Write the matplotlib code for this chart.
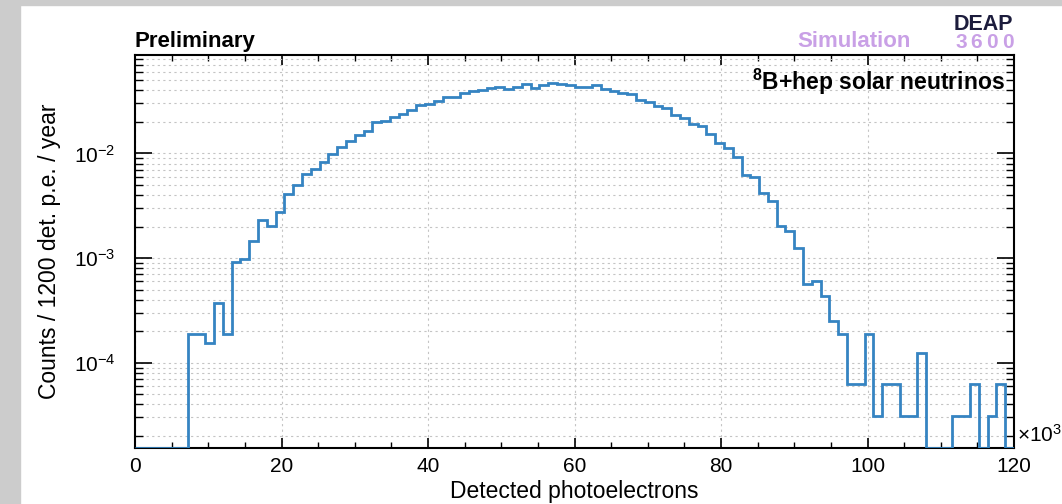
import numpy as np
import matplotlib
matplotlib.use("Agg")
import matplotlib.pyplot as plt
from matplotlib.ticker import LogLocator, MultipleLocator, NullFormatter, FuncFormatter

plt.rcParams['font.family'] = ['Liberation Sans', 'DejaVu Sans']
plt.rcParams['mathtext.fontset'] = 'custom'
plt.rcParams['mathtext.rm'] = 'Liberation Sans'
plt.rcParams['mathtext.it'] = 'Liberation Sans:italic'
plt.rcParams['mathtext.bf'] = 'Liberation Sans:bold'

# histogram: 100 bins of 1200 detected p.e. from 0 to 120k
bin_width = 1200
n_bins = 100
counts = [
    0, 0, 0, 0, 0, 0, 1.87e-4, 1.87e-4, 1.55e-4, 3.7e-4,
    1.87e-4, 9.2e-4, 9.9e-4, 1.45e-3, 2.29e-3, 2.02e-3, 2.77e-3, 4.08e-3, 4.94e-3, 6.34e-3,
    7.08e-3, 8.2e-3, 9.9e-3, 1.14e-2, 1.31e-2, 1.51e-2, 1.64e-2, 1.98e-2, 2.02e-2, 2.24e-2,
    2.37e-2, 2.59e-2, 2.87e-2, 2.96e-2, 3.16e-2, 3.43e-2, 3.45e-2, 3.8e-2, 3.94e-2, 4.03e-2,
    4.24e-2, 4.33e-2, 4.11e-2, 4.26e-2, 4.56e-2, 4.24e-2, 4.49e-2, 4.72e-2, 4.6e-2, 4.49e-2,
    4.3e-2, 4.33e-2, 4.49e-2, 4.08e-2, 3.94e-2, 3.74e-2, 3.7e-2, 3.23e-2, 3.09e-2, 2.85e-2,
    2.69e-2, 2.32e-2, 2.19e-2, 1.89e-2, 1.82e-2, 1.53e-2, 1.25e-2, 1.12e-2, 9.3e-3, 6.2e-3,
    5.9e-3, 4.2e-3, 3.5e-3, 2.02e-3, 1.82e-3, 1.25e-3, 5.6e-4, 6.1e-4, 4.35e-4, 2.5e-4,
    1.87e-4, 6.2e-5, 6.2e-5, 1.87e-4, 3.1e-5, 6.2e-5, 6.2e-5, 3.1e-5, 3.1e-5, 1.24e-4,
    0, 0, 0, 3.1e-5, 3.1e-5, 6.2e-5, 0, 3.1e-5, 6.2e-5, 0,
]
x_ticks = [0, 20000, 40000, 60000, 80000, 100000, 120000]
y_ticks = [1e-4, 1e-3, 1e-2]

ymin, ymax = 1.55e-5, 8.7e-2

edges = np.arange(n_bins + 1) * bin_width
vals = np.array(counts, dtype=float)
vals = np.where(vals > 0, vals, ymin)   # empty bins sit on the frame like in ROOT

fig = plt.figure(figsize=(10.62, 5.04), dpi=100)
# grey window border
fig.patches.append(plt.Rectangle((0, 0), 20 / 1062, 1, transform=fig.transFigure,
                                 color='#cccccc', zorder=0))
fig.patches.append(plt.Rectangle((0, 1 - 5 / 504), 1, 5 / 504, transform=fig.transFigure,
                                 color='#cccccc', zorder=0))

ax = fig.add_axes([135 / 1062, 1 - 447.5 / 504, (1014 - 135) / 1062, (447.5 - 55) / 504])
ax.stairs(vals, edges, baseline=None, color='#3584c2', linewidth=2.0, zorder=3)

ax.set_yscale('log')
ax.set_xlim(0, 120000)
ax.set_ylim(ymin, ymax)

ax.xaxis.set_major_locator(MultipleLocator(20000))
ax.xaxis.set_minor_locator(MultipleLocator(5000))
ax.set_xticks(x_ticks)
ax.xaxis.set_major_formatter(FuncFormatter(lambda v, p: '%d' % (v / 1000)))

ax.yaxis.set_major_locator(LogLocator(base=10, numticks=10))
ax.yaxis.set_minor_locator(LogLocator(base=10, subs=np.arange(2, 10), numticks=20))
ax.yaxis.set_minor_formatter(NullFormatter())
ax.set_yticks(y_ticks)
ax.set_yticklabels([r'10$^{-4}$', r'10$^{-3}$', r'10$^{-2}$'])

ax.tick_params(which='both', direction='in', top=True, right=True, labelsize=15, color='black')
ax.tick_params(axis='x', which='major', length=7, width=1.2, pad=7)
ax.tick_params(axis='x', which='minor', length=4, width=1.0)
ax.tick_params(axis='y', which='major', length=12, width=1.2, pad=14)
ax.tick_params(axis='y', which='minor', length=6, width=1.0)

ax.grid(which='major', axis='x', color='#c4c4c4', linestyle=(0, (2, 3)), linewidth=0.8)
ax.grid(which='both', axis='y', color='#c4c4c4', linestyle=(0, (2, 3)), linewidth=0.8)

for s in ax.spines.values():
    s.set_linewidth(1.5)

ax.set_xlabel('Detected photoelectrons', fontsize=16.5, labelpad=3)
ax.set_ylabel('Counts / 1200 det. p.e. / year', fontsize=16.5, labelpad=9)

ax.text(1.003, 0.005, r'$\times$10$^{3}$', transform=ax.transAxes, fontsize=15,
        ha='left', va='bottom')

ax.text((1005 - 135) / 879, (447.5 - 90) / 392.5, r'$^{\mathbf{8}}$B+hep solar neutrinos',
        transform=ax.transAxes, fontsize=16.5, fontweight='bold', ha='right', va='baseline')

fig.text(135 / 1062, 1 - 47 / 504, 'Preliminary', fontsize=16, fontweight='bold',
         ha='left', va='baseline')
fig.text(797 / 1062, 1 - 47 / 504, 'Simulation', fontsize=16, fontweight='bold',
         color='#c9a0e6', ha='left', va='baseline')
fig.text(954 / 1062, 1 - 29.5 / 504, 'DEAP', fontsize=15.5, fontweight='bold',
         color='#1c1c3c', ha='left', va='baseline')
for i, ch in enumerate('3600'):
    fig.text((961 + 15.5 * i) / 1062, 1 - 48 / 504, ch, fontsize=15, fontweight='bold',
             color='#c9a0e6', ha='center', va='baseline')

fig.savefig('out.png', dpi=100)
